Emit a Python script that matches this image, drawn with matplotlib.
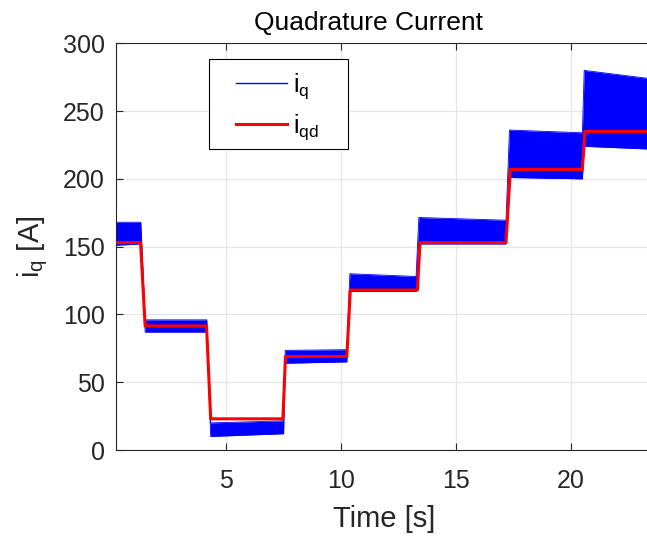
import matplotlib
matplotlib.use('Agg')
import matplotlib.pyplot as plt
from matplotlib.patches import Rectangle

plt.rcParams['font.family'] = ['Liberation Sans', 'DejaVu Sans']
plt.rcParams['mathtext.default'] = 'regular'

# referencia i_qd (degraus)
t_ref = [0.2, 1.28, 1.48, 4.15, 4.33, 7.47, 7.58, 10.25, 10.40,
         13.32, 13.43, 17.17, 17.36, 20.49, 20.60, 23.4]
iqd   = [153, 153, 91.5, 91.5, 23, 23, 69, 69, 118,
         118, 153, 153, 207, 207, 235, 235]

# envoltoria da corrente medida i_q (faixa de ripple)
t_iq  = [0.2, 1.29, 1.48, 4.16, 4.33, 7.50, 7.57, 10.25, 10.38,
         13.26, 13.38, 17.17, 17.32, 20.49, 20.57, 23.4]
iq_hi = [168, 168, 96, 96, 20, 21.5, 73.5, 74, 130,
         128, 171.5, 169.5, 236, 234, 280, 274]
iq_lo = [151, 152, 87, 87, 10, 12, 64, 65, 117,
         117, 152, 152, 201, 200, 224, 222]

W, H = 647, 537
fig = plt.figure(figsize=(W / 100, H / 100), dpi=100)
ax_w = 1 - 115.7 / W + 0.01
ax = fig.add_axes([115.7 / W, 1 - 450 / H, ax_w, (450 - 43.3) / H])

ax.fill_between(t_iq, iq_lo, iq_hi, color='blue', lw=0, zorder=2)
ax.plot(t_iq, iq_hi, color='blue', lw=0.6, label='$i_q$', zorder=2)
ax.plot(t_iq, iq_lo, color='blue', lw=0.6, zorder=2)
ax.plot(t_ref, iqd, color='red', lw=2.2, label='$i_{qd}$', zorder=3)

ax.set_xlim(0.2, 23.3 + 0.01 * W / 23)
ax.set_ylim(0, 300)
ax.set_xticks([5, 10, 15, 20])
ax.set_yticks(range(0, 301, 50))

gc = (0.15, 0.15, 0.15)
for s in ax.spines.values():
    s.set_color(gc)
    s.set_linewidth(0.8)
ax.tick_params(direction='in', length=5, width=0.8, colors=gc, labelsize=18,
               top=True, right=False)
ax.tick_params(axis='x', pad=14)
ax.tick_params(axis='y', pad=8)
ax.grid(True, color=(0.9, 0.9, 0.9), lw=0.9)
ax.set_axisbelow(True)

ax.set_title('Quadrature Current', fontsize=19, color='black', pad=9.5,
             x=(368.5 - 115.7) / (ax_w * W))
ax.set_xlabel('Time [s]', fontsize=21, color=gc, labelpad=8)
ax.set_ylabel('$i_q$ [A]', fontsize=21, color=gc, labelpad=9)

# caixa da legenda (estilo MATLAB, mais larga que o conteudo)
ax.add_patch(Rectangle((209.3 / W, 1 - 149 / H), (347.7 - 209.3) / W, (149 - 59.3) / H,
                       transform=fig.transFigure, facecolor='white', edgecolor='black',
                       lw=0.8, zorder=4, clip_on=False))
leg = ax.legend(loc='upper left', bbox_to_anchor=(236 / W, 1 - 71 / H),
                bbox_transform=fig.transFigure, borderaxespad=0, frameon=False,
                fontsize=18, handlelength=2.05, handletextpad=0.22,
                borderpad=0, labelspacing=0.45)
leg.set_zorder(5)
leg.get_lines()[0].set_linewidth(1.0)

fig.savefig('out.png', dpi=100)
